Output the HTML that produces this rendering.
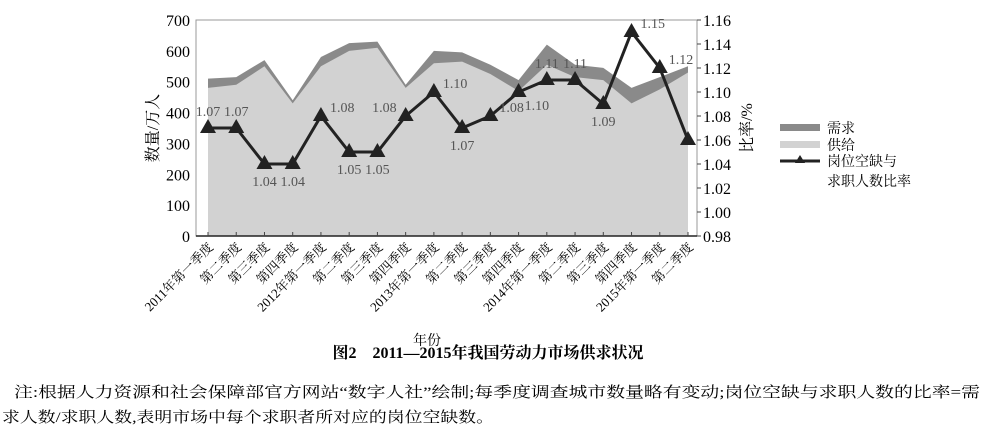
<!DOCTYPE html>
<html><head><meta charset="utf-8"><style>
body{margin:0;background:#fff;}
svg text{font-family:"Liberation Serif","Noto Serif CJK SC",serif;}
</style></head><body>
<svg width="988" height="437" xmlns="http://www.w3.org/2000/svg">
<g id="areas"></g><g id="axes"></g><g id="line"></g><g id="labels"></g>
<g font-size="14">
 <rect x="780" y="124" width="40" height="7" fill="#8a8a8a"/>
 <text x="827" y="133">需求</text>
 <rect x="780" y="141" width="40" height="7" fill="#d2d2d2"/>
 <text x="827" y="150">供给</text>
 <line x1="780" y1="161" x2="820" y2="161" stroke="#222" stroke-width="3"/>
 <polygon points="800,155 795,163 805,163" fill="#222"/>
 <text x="827" y="166">岗位空缺与</text>
 <text x="827" y="186">求职人数比率</text>
</g>
<text x="488" y="358" font-size="16" font-weight="bold" text-anchor="middle">图2　2011—2015年我国劳动力市场供求状况</text>
<text x="14" y="397" font-size="15" textLength="966" lengthAdjust="spacingAndGlyphs">注:根据人力资源和社会保障部官方网站“数字人社”绘制;每季度调查城市数量略有变动;岗位空缺与求职人数的比率=需</text>
<text x="2" y="422" font-size="15" textLength="492" lengthAdjust="spacingAndGlyphs">求人数/求职人数,表明市场中每个求职者所对应的岗位空缺数。</text>
</svg>
<script>
const categories=["2011年第一季度","第二季度","第三季度","第四季度","2012年第一季度","第二季度","第三季度","第四季度","2013年第一季度","第二季度","第三季度","第四季度","2014年第一季度","第二季度","第三季度","第四季度","2015年第一季度","第二季度"];
const demand=[510,515,570,440,580,625,630,490,600,595,555,505,620,555,545,480,515,550];
const supply=[480,490,550,430,550,600,610,480,560,565,525,470,555,515,505,430,475,530];
const ratio=[1.07,1.07,1.04,1.04,1.08,1.05,1.05,1.08,1.10,1.07,1.08,1.10,1.11,1.11,1.09,1.15,1.12,1.06];
const leftTicks=[0,100,200,300,400,500,600,700];
const rightTicks=[0.98,1.00,1.02,1.04,1.06,1.08,1.10,1.12,1.14,1.16];
const NS="http://www.w3.org/2000/svg";
const L=196,R=697,T=20,B=236;
const x=i=>208+i*(688-208)/(categories.length-1);
const yl=v=>B-v/700*(B-T);
const yr=r=>B-(r-0.98)/0.18*(B-T);
function mk(t,a,p){const e=document.createElementNS(NS,t);for(const k in a)e.setAttribute(k,a[k]);p.appendChild(e);return e;}
const areas=document.getElementById('areas'),axes=document.getElementById('axes'),line=document.getElementById('line'),labs=document.getElementById('labels');
function areaPath(arr){let d=`M${x(0)},${B}`;arr.forEach((v,i)=>d+=` L${x(i)},${yl(v)}`);return d+` L${x(arr.length-1)},${B} Z`;}
let e=mk('path',{d:areaPath(demand),fill:'#8a8a8a'},areas);

e=mk('path',{d:areaPath(supply),fill:'#d2d2d2'},areas);

mk('rect',{x:L,y:T,width:R-L,height:B-T,fill:'none',stroke:'#999','stroke-width':1},axes);
mk('line',{x1:L,y1:B,x2:R,y2:B,stroke:'#222','stroke-width':1.5},axes);
leftTicks.forEach(v=>{const t=mk('text',{x:L-6,y:yl(v)+6,'text-anchor':'end','font-size':16},axes);t.textContent=v;
});
rightTicks.forEach(v=>{mk('line',{x1:R,y1:yr(v),x2:R+4,y2:yr(v),stroke:'#444'},axes);const t=mk('text',{x:R+6,y:yr(v)+6,'font-size':16},axes);t.textContent=v.toFixed(2);
});
categories.forEach((c,i)=>{mk('line',{x1:x(i),y1:B,x2:x(i),y2:B-4,stroke:'#444'},axes);
const t=mk('text',{x:x(i)+6,y:B+12,'text-anchor':'end','font-size':13,transform:`rotate(-45 ${x(i)+6} ${B+12})`},axes);t.textContent=c;
});
let t=mk('text',{x:427,y:345,'font-size':14,'text-anchor':'middle'},axes);t.textContent='年份';

t=mk('text',{x:0,y:0,'font-size':16,'text-anchor':'middle',transform:`translate(158,128) rotate(-90)`},axes);t.textContent='数量/万人';

t=mk('text',{x:0,y:0,'font-size':16,'text-anchor':'middle',transform:`translate(752,128) rotate(-90)`},axes);t.textContent='比率/%';

let d='';ratio.forEach((r,i)=>d+=(i?' L':'M')+x(i)+','+yr(r));
e=mk('path',{d:d,fill:'none',stroke:'#222','stroke-width':3},line);

// label placement: a=above-center, b=below, r=right, l=left, rb=right-below
const place=['a','a','b','b','r','b','b','l','r','b','r','rb','a','a','b','r','r',''];
ratio.forEach((r,i)=>{const cx=x(i),cy=yr(r);
const p=mk('polygon',{points:`${cx},${cy-9} ${cx-8},${cy+5} ${cx+8},${cy+5}`,fill:'#222'},line);

const pl=place[i];if(!pl)return;
let a={x:cx,y:cy,'font-size':14,fill:'#555','text-anchor':'middle'};
if(pl==='a'){a.y=cy-12;}
else if(pl==='b'){a.y=cy+22;}
else if(pl==='r'){a.x=cx+9;a.y=cy-4;a['text-anchor']='start';}
else if(pl==='l'){a.x=cx-9;a.y=cy-4;a['text-anchor']='end';}
else if(pl==='rb'){a.x=cx+6;a.y=cy+18;a['text-anchor']='start';}
const lt=mk('text',a,labs);
lt.textContent=r.toFixed(2);
});
</script>
</body></html>
